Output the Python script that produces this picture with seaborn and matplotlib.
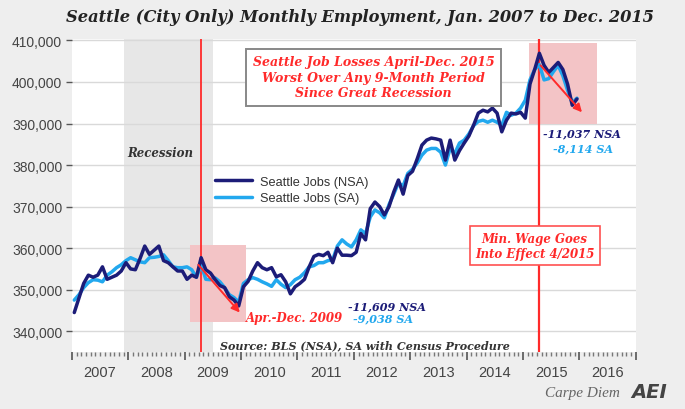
import matplotlib
matplotlib.use("Agg")
import matplotlib.pyplot as plt
from matplotlib.patches import Rectangle
from matplotlib.ticker import FixedLocator, FuncFormatter
import pandas as pd
import seaborn as sns

# monthly employment, thousands of jobs
months = pd.date_range("2007-01-01", "2015-12-01", freq="MS")
nsa_jobs = [
    344.5, 348.0, 351.5, 353.5, 353.0, 353.5, 355.5, 352.5, 353.0, 353.5, 354.5, 356.5,
    355.0, 354.8, 357.5, 360.5, 358.5, 359.5, 360.5, 357.0, 356.5, 355.5, 354.5, 354.5,
    352.5, 353.5, 353.0, 357.7, 354.8, 354.0, 352.4, 351.0, 350.5, 348.3, 347.5, 346.1,
    350.7, 352.0, 354.5, 356.5, 355.3, 354.8, 355.3, 353.1, 353.6, 351.9, 349.0, 350.7,
    351.5, 352.5, 355.5, 358.0, 358.5, 358.2, 359.0, 356.5, 360.0, 358.3, 358.3, 358.2,
    359.0, 363.5, 362.0, 369.5, 371.1, 370.0, 368.0, 370.0, 373.5, 376.4, 373.0, 377.5,
    378.5, 381.5, 384.8, 386.0, 386.5, 386.3, 386.0, 381.2, 386.0, 381.2, 383.5, 385.3,
    387.0, 389.6, 392.5, 393.2, 392.8, 393.7, 392.5, 388.0, 390.8, 392.5, 392.3, 392.7,
    391.3, 399.5, 403.0, 406.9, 404.0, 402.3, 403.5, 404.7, 403.0, 399.5, 394.4, 395.9,
]
sa_jobs = [
    347.5, 348.8, 350.5, 351.7, 352.4, 352.3, 351.9, 353.5, 354.3, 355.3, 356.0, 357.0,
    357.7, 357.2, 356.7, 356.5, 357.7, 357.8, 358.0, 358.4, 357.0, 355.5, 355.3, 355.3,
    355.5, 354.8, 353.0, 356.0, 352.5, 352.4, 352.8, 351.9, 350.5, 348.8, 348.1, 347.0,
    351.5, 352.4, 352.9, 352.5, 351.9, 351.4, 350.8, 352.4, 351.3, 350.5, 351.2, 352.4,
    353.0, 354.1, 355.5, 355.8, 356.5, 356.5, 357.0, 357.2, 360.5, 362.0, 361.0, 360.3,
    362.0, 364.4, 363.5, 367.5, 369.2, 368.5, 367.3, 370.5, 373.0, 375.7, 375.0, 378.0,
    379.0, 380.5, 382.4, 383.6, 384.0, 384.0, 383.1, 380.0, 384.0, 382.8, 385.3, 386.0,
    387.5, 389.5, 390.5, 390.8, 390.3, 390.8, 390.3, 389.6, 392.7, 392.0, 392.5, 393.7,
    395.6, 400.5, 403.0, 404.2, 400.5, 400.8, 402.5, 404.0, 401.5, 398.0, 395.0, 396.1,
]
year_labels = [str(y) for y in range(2007, 2017)]
y_ticks = [340000, 350000, 360000, 370000, 380000, 390000, 400000, 410000]

NAVY = "#1c1c78"
SKY = "#22a8ee"
RED = "#ff2a2a"
SERIF = ["DejaVu Serif"]

df = pd.DataFrame({"month": months, "nsa": nsa_jobs, "sa": sa_jobs})
df["x"] = df["month"].dt.year + (df["month"].dt.month - 0.5) / 12
df["nsa"] = df["nsa"] * 1000
df["sa"] = df["sa"] * 1000

sns.set_theme(style="white")
plt.rcParams["font.family"] = ["Liberation Sans", "DejaVu Sans"]

fig = plt.figure(figsize=(6.85, 4.10), dpi=100, facecolor="#eeeeee")
ax = fig.add_axes([0.105, 0.139, 0.823, 0.763])
ax.set_facecolor("white")

# shaded regions and markers
ax.axvspan(2007.92, 2009.5, color="#e7e7e7", lw=0, zorder=0)
ax.add_patch(Rectangle((2009.09, 342200), 0.99, 18500, color="#f3c4c6", lw=0, zorder=1))
ax.add_patch(Rectangle((2015.10, 390000), 1.21, 19300, color="#f3c4c6", lw=0, zorder=1))
ax.axvline(2009.29, color=RED, lw=1.3, zorder=2)
ax.axvline(2015.29, color=RED, lw=1.6, zorder=2)

for yv in y_ticks:
    ax.axhline(yv, color="#d9d9d9", lw=1, zorder=0.5)

sns.lineplot(data=df, x="x", y="nsa", color=NAVY, lw=2.5, ax=ax,
             label="Seattle Jobs (NSA)", zorder=4)
sns.lineplot(data=df, x="x", y="sa", color=SKY, lw=2.5, ax=ax,
             label="Seattle Jobs (SA)", zorder=3)

# trend arrows
arrow = dict(arrowstyle="-|>", color=RED, lw=1.4, mutation_scale=12)
ax.annotate("", xy=(2010.01, 344000), xytext=(2009.21, 356500), arrowprops=arrow, zorder=5)
ax.annotate("", xy=(2016.08, 392200), xytext=(2015.28, 404500), arrowprops=arrow, zorder=5)

ax.set_xlim(2007, 2017)
ax.set_ylim(335000, 410300)
ax.set_xlabel("")
ax.set_ylabel("")
for s in ax.spines.values():
    s.set_visible(False)

ax.xaxis.set_major_locator(FixedLocator(list(range(2007, 2018))))
ax.xaxis.set_minor_locator(FixedLocator([2007 + i / 12 for i in range(121)]))
ax.tick_params(axis="x", which="major", bottom=True, length=6, width=1.2,
               color="#555555", labelbottom=False)
ax.tick_params(axis="x", which="minor", bottom=True, length=3, width=1,
               color="#777777")
for i, lab in enumerate(year_labels):
    ax.text(2007.5 + i, -0.065, lab, transform=ax.get_xaxis_transform(),
            ha="center", va="center", fontsize=10.5, color="#444444")

ax.set_yticks(y_ticks)
ax.yaxis.set_major_formatter(FuncFormatter(lambda v, p: f"{int(v):,}"))
ax.tick_params(axis="y", left=True, length=4, width=1, color="#555555",
               labelsize=10, labelcolor="#444444", pad=3)

leg = ax.legend(loc="upper left", bbox_to_anchor=(0.245, 0.58), frameon=False,
                fontsize=9.2, handlelength=2.9, handletextpad=0.6,
                labelspacing=0.35, borderaxespad=0)
for t in leg.get_texts():
    t.set_color("#333333")

fig.text(0.525, 0.957, "Seattle (City Only) Monthly Employment, Jan. 2007 to Dec. 2015",
         ha="center", va="center", fontsize=11.7, fontweight="bold", style="italic",
         family=SERIF, color="#222222")

ax.text(2012.35, 401100,
        "Seattle Job Losses April-Dec. 2015\nWorst Over Any 9-Month Period\nSince Great Recession",
        ha="center", va="center", fontsize=9, fontweight="bold", style="italic",
        family=SERIF, color=RED, linespacing=1.25, zorder=6,
        bbox=dict(boxstyle="square,pad=0.5", fc="white", ec="#888888", lw=1.4))
ax.text(2015.21, 360600, "Min. Wage Goes\nInto Effect 4/2015",
        ha="center", va="center", fontsize=8.5, fontweight="bold", style="italic",
        family=SERIF, color=RED, linespacing=1.2, zorder=6,
        bbox=dict(boxstyle="square,pad=0.45", fc="white", ec="#ff5050", lw=1.2))

ax.text(2008.56, 383100, "Recession", ha="center", va="center", fontsize=8.5,
        fontweight="bold", style="italic", family=SERIF, color="#333333")
ax.text(2010.08, 343300, "Apr.-Dec. 2009", ha="left", va="center", fontsize=8.5,
        fontweight="bold", style="italic", family=SERIF, color=RED)
ax.text(2011.89, 346200, "-11,609 NSA", ha="left", va="center", fontsize=8,
        fontweight="bold", style="italic", family=SERIF, color=NAVY)
ax.text(2011.98, 343300, "-9,038 SA", ha="left", va="center", fontsize=8,
        fontweight="bold", style="italic", family=SERIF, color=SKY)
ax.text(2015.35, 387700, "-11,037 NSA", ha="left", va="center", fontsize=8,
        fontweight="bold", style="italic", family=SERIF, color=NAVY)
ax.text(2015.53, 384100, "-8,114 SA", ha="left", va="center", fontsize=8,
        fontweight="bold", style="italic", family=SERIF, color=SKY)
ax.text(2012.2, 336800, "Source: BLS (NSA), SA with Census Procedure", ha="center",
        va="center", fontsize=8, fontweight="bold", style="italic", family=SERIF,
        color="#333333")

fig.text(0.905, 0.041, "Carpe Diem", ha="right", va="center", fontsize=11,
         style="italic", family=["Liberation Serif"], color="#666666")
fig.text(0.922, 0.043, "AEI", ha="left", va="center", fontsize=14, fontweight="heavy",
         style="italic", family=["DejaVu Sans"], color="#444444")

fig.savefig("out.png", dpi=100, facecolor=fig.get_facecolor())
